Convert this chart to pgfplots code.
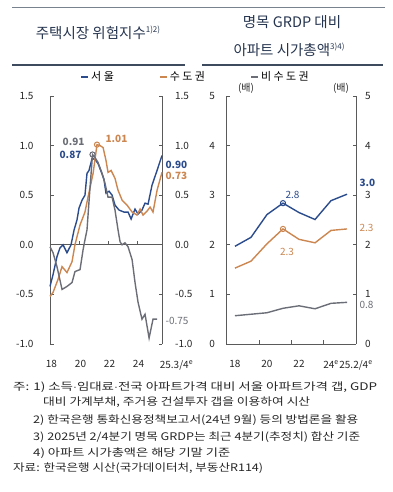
\documentclass[border=0pt]{standalone}
\usepackage{fontspec}
\setmainfont{Noto Sans CJK KR}
\usepackage{graphicx}
\usepackage{pgfplots}
\pgfplotsset{compat=1.18}
\definecolor{cblue}{HTML}{2B4C8C}
\definecolor{corange}{HTML}{CC8650}
\definecolor{cgrey}{HTML}{6B6E76}
\definecolor{ctitle}{HTML}{26354F}
\definecolor{cline}{HTML}{3E4B5E}
\definecolor{caxis}{HTML}{5A5A5A}
\newcommand\tickfont{\fontsize{10}{12}\selectfont}
\newcommand\fn[2]{\resizebox{#1}{\height}{#2}}
\pgfplotsset{
  common/.style={scale only axis, anchor=south west, height=248pt, clip=false,
    /pgf/number format/assume math mode=true,
    tick align=inside, major tick length=3.5pt,
    every tick/.style={caxis, line width=0.8pt},
    axis line style={caxis, line width=0.8pt, -},
    tick label style={font=\tickfont, text=black!85}},
}
\begin{document}
\begin{tikzpicture}[x=1pt,y=1pt]
\path[use as bounding box] (0pt,0pt) rectangle (392pt,492pt);
% title rules
\draw[cline!70, line width=0.7pt] (12pt,485pt) -- (385pt,485pt);
\draw[cline, line width=1.2pt] (12pt,427pt) -- (185pt,427pt);
\draw[cline, line width=1.2pt] (202pt,427pt) -- (383pt,427pt);
\node[ctitle, font=\fontsize{14.5}{16}\selectfont] at (98pt,459pt) {주택시장 위험지수{\fontsize{8}{8}\selectfont\raisebox{5.5pt}{1)2)}}};
\node[ctitle, font=\fontsize{14.5}{16}\selectfont] at (292pt,470pt) {명목 GRDP 대비};
\node[ctitle, font=\fontsize{14.5}{16}\selectfont] at (289pt,442pt) {아파트 시가총액{\fontsize{8}{8}\selectfont\raisebox{5.5pt}{3)4)}}};
\node[font=\tickfont, text=black!85] at (246pt,404pt) {(배)};
\node[font=\tickfont, text=black!85] at (341pt,404pt) {(배)};

% ---------------- left panel ----------------
\begin{axis}[common, name=L, at={(50pt,148pt)}, width=112pt,
  xmin=18, xmax=25.72, ymin=-1, ymax=1.5,
  axis x line*=bottom, x axis line style={draw=none}, axis y line*=box,
  xtick={18,20,22,24}, xticklabels={18,20,22,24},
  xtick style={draw=none},
  xticklabel style={xshift=1.5pt, yshift=-13pt},
  extra x ticks={25.72}, extra x tick labels={25.3/4\textsuperscript{e}},
  extra x tick style={xticklabel style={xshift=13pt}},
  ytick={-1,-0.5,0,0.5,1,1.5}, yticklabels={-1.0,-0.5,0.0,0.5,1.0,1.5},
  yticklabel style={xshift=-13pt},
  legend columns=3,
  legend style={draw=none, fill=none, at={(0.268,1.077)}, anchor=west,
    font=\fontsize{11}{13}\selectfont\addfontfeatures{LetterSpace=22},
    /tikz/every even column/.append style={column sep=43pt},
    inner sep=0pt},
  legend image code/.code={\draw[#1, line width=2pt] (0pt,0pt) -- (7pt,0pt);},
]
\draw[caxis, line width=0.8pt] (axis cs:18,0) -- (axis cs:25.72,0);
\draw[caxis, line width=0.8pt] (axis cs:20,0) -- ++(0pt,3.5pt);
\draw[caxis, line width=0.8pt] (axis cs:22,0) -- ++(0pt,3.5pt);
\draw[caxis, line width=0.8pt] (axis cs:24,0) -- ++(0pt,3.5pt);
\addplot[cblue, line width=1.4pt] coordinates {
(18.00,-0.42)(18.21,-0.30)(18.48,-0.12)(18.69,-0.03)(18.90,0.00)(19.17,-0.08)(19.45,0.00)(19.66,0.15)(19.86,0.25)(20.00,0.37)(20.21,0.45)(20.41,0.50)(20.55,0.72)(20.69,0.75)(20.90,0.87)(21.10,0.86)(21.31,0.82)(21.52,0.74)(21.72,0.66)(21.86,0.52)(22.07,0.54)(22.28,0.50)(22.48,0.40)(22.76,0.35)(23.10,0.33)(23.38,0.33)(23.59,0.26)(23.86,0.36)(24.07,0.31)(24.34,0.35)(24.55,0.42)(24.76,0.41)(25.03,0.60)(25.31,0.72)(25.72,0.90)};
\addlegendentry{서울}
\addplot[corange, line width=1.4pt] coordinates {
(18.00,-0.52)(18.21,-0.48)(18.55,-0.35)(18.83,-0.22)(19.17,-0.28)(19.52,-0.17)(19.72,0.00)(20.07,0.20)(20.41,0.33)(20.62,0.48)(20.97,0.72)(21.24,1.01)(21.45,1.00)(21.66,0.98)(21.86,0.85)(22.00,0.73)(22.21,0.75)(22.48,0.67)(22.69,0.55)(22.97,0.45)(23.31,0.40)(23.66,0.33)(24.00,0.30)(24.21,0.36)(24.41,0.30)(24.69,0.34)(24.90,0.38)(25.10,0.33)(25.38,0.55)(25.72,0.73)};
\addlegendentry{수도권}
\addplot[cgrey, line width=1.4pt] coordinates {
(18.00,-0.02)(18.21,-0.08)(18.48,-0.22)(18.83,-0.45)(19.17,-0.42)(19.52,-0.38)(19.72,-0.27)(20.07,-0.25)(20.28,-0.05)(20.41,0.05)(20.55,0.15)(20.72,0.50)(20.93,0.91)(21.10,0.88)(21.31,0.83)(21.59,0.72)(21.79,0.62)(22.00,0.48)(22.28,0.48)(22.48,0.35)(22.69,0.15)(22.83,0.03)(22.97,0.00)(23.17,0.02)(23.38,-0.02)(23.66,-0.15)(23.86,-0.38)(24.07,-0.58)(24.34,-0.75)(24.55,-0.70)(24.69,-0.82)(24.83,-0.94)(25.10,-0.75)(25.38,-0.75)};
\addlegendentry{비수도권}
\addplot[cgrey, only marks, mark=o, mark size=2.6pt, mark options={fill=white, line width=1pt}, forget plot] coordinates {(20.93,0.91)};
\addplot[corange, only marks, mark=o, mark size=2.6pt, mark options={fill=white, line width=1pt}, forget plot] coordinates {(21.24,1.01)};
\node[cgrey, anchor=east, font=\fontsize{10}{12}\selectfont\bfseries] at (axis cs:20.62,1.04) {0.91};
\node[cblue, anchor=east, font=\fontsize{10}{12}\selectfont\bfseries] at (axis cs:20.41,0.91) {0.87};
\node[corange, anchor=west, font=\fontsize{10}{12}\selectfont\bfseries] at (axis cs:21.59,1.07) {1.01};
\node[cblue, anchor=west, font=\fontsize{10}{12}\selectfont\bfseries] at (axis cs:25.72,0.81) {0.90};
\node[corange, anchor=west, font=\fontsize{10}{12}\selectfont\bfseries] at (axis cs:25.72,0.69) {0.73};
\node[cgrey, anchor=west, font=\fontsize{10}{12}\selectfont] at (axis cs:25.72,-0.77) {-0.75};
\end{axis}
\begin{axis}[common, at={(50pt,148pt)}, width=112pt,
  xmin=18, xmax=25.72, ymin=-1, ymax=1.5,
  axis x line=none, axis y line*=right, y axis line style={draw=none}, ytick style={draw=none},
  ytick={-1,-0.5,0,0.5,1,1.5}, yticklabels={-1.0,-0.5,0.0,0.5,1.0,1.5},
  yticklabel style={xshift=9.5pt}]
\end{axis}

% ---------------- right panel ----------------
\begin{axis}[common, at={(226pt,148pt)}, width=130pt,
  xmin=17.44, xmax=25.56, ymin=0, ymax=5,
  axis x line*=bottom, axis y line*=box,
  xtick={19.5,21.5,23.5}, xticklabels={},
  extra x ticks={18,20,22,24,25},
  extra x tick labels={18,20,22,24\textsuperscript{e},\hspace*{18pt}25.2/4\textsuperscript{e}},
  extra x tick style={major tick length=0pt, xticklabel style={yshift=-13pt}},
  ytick={0,1,2,3,4,5},
  yticklabel style={xshift=-7.5pt}]
\addplot[cblue, line width=1.4pt] coordinates {(18,1.97)(19,2.15)(20,2.61)(21,2.84)(22,2.65)(23,2.51)(24,2.89)(25,3.02)};
\addplot[corange, line width=1.4pt] coordinates {(18,1.53)(19,1.67)(20,2.02)(21,2.32)(22,2.11)(23,2.04)(24,2.29)(25,2.32)};
\addplot[cgrey, line width=1.4pt] coordinates {(18,0.57)(19,0.60)(20,0.63)(21,0.72)(22,0.77)(23,0.71)(24,0.82)(25,0.84)};
\addplot[cblue, only marks, mark=o, mark size=2.6pt, mark options={fill=white, line width=1pt}] coordinates {(21,2.84)};
\addplot[corange, only marks, mark=o, mark size=2.6pt, mark options={fill=white, line width=1pt}] coordinates {(21,2.32)};
\node[cblue, font=\fontsize{10}{12}\selectfont] at (axis cs:21.6,3.0) {2.8};
\node[corange, font=\fontsize{10}{12}\selectfont] at (axis cs:21.25,1.85) {2.3};
\node[cblue, anchor=west, font=\fontsize{10}{12}\selectfont\bfseries] at (axis cs:25.56,3.24) {3.0};
\node[corange, anchor=west, font=\fontsize{10}{12}\selectfont] at (axis cs:25.56,2.34) {2.3};
\node[cgrey, anchor=west, font=\fontsize{10}{12}\selectfont] at (axis cs:25.56,0.79) {0.8};
\end{axis}
\begin{axis}[common, at={(226pt,148pt)}, width=130pt,
  xmin=17.44, xmax=25.56, ymin=0, ymax=5,
  axis x line=none, axis y line*=right, y axis line style={draw=none}, ytick style={draw=none},
  ytick={0,1,2,3,4,5},
  yticklabel style={xshift=5.5pt}]
\end{axis}

% ---------------- footnotes ----------------
\begin{scope}[every node/.style={anchor=west, inner sep=0pt, font=\fontsize{10.5}{12}\selectfont, text=black!85}]
\node at (13pt,105pt) {\fn{364pt}{주: 1) 소득$\cdot$임대료$\cdot$전국 아파트가격 대비 서울 아파트가격 갭, GDP}};
\node at (43pt,90pt) {\fn{267pt}{대비 가계부채, 주거용 건설투자 갭을 이용하여 시산}};
\node at (33pt,72pt) {\fn{325pt}{2) 한국은행 통화신용정책보고서(24년 9월) 등의 방법론을 활용}};
\node at (33pt,55pt) {\fn{327pt}{3) 2025년 2/4분기 명목 GRDP는 최근 4분기(추정치) 합산 기준}};
\node at (33pt,39pt) {\fn{197pt}{4) 아파트 시가총액은 해당 기말 기준}};
\node at (13pt,24pt) {\fn{250pt}{자료: 한국은행 시산(국가데이터처, 부동산R114)}};
\end{scope}
\end{tikzpicture}
\end{document}
